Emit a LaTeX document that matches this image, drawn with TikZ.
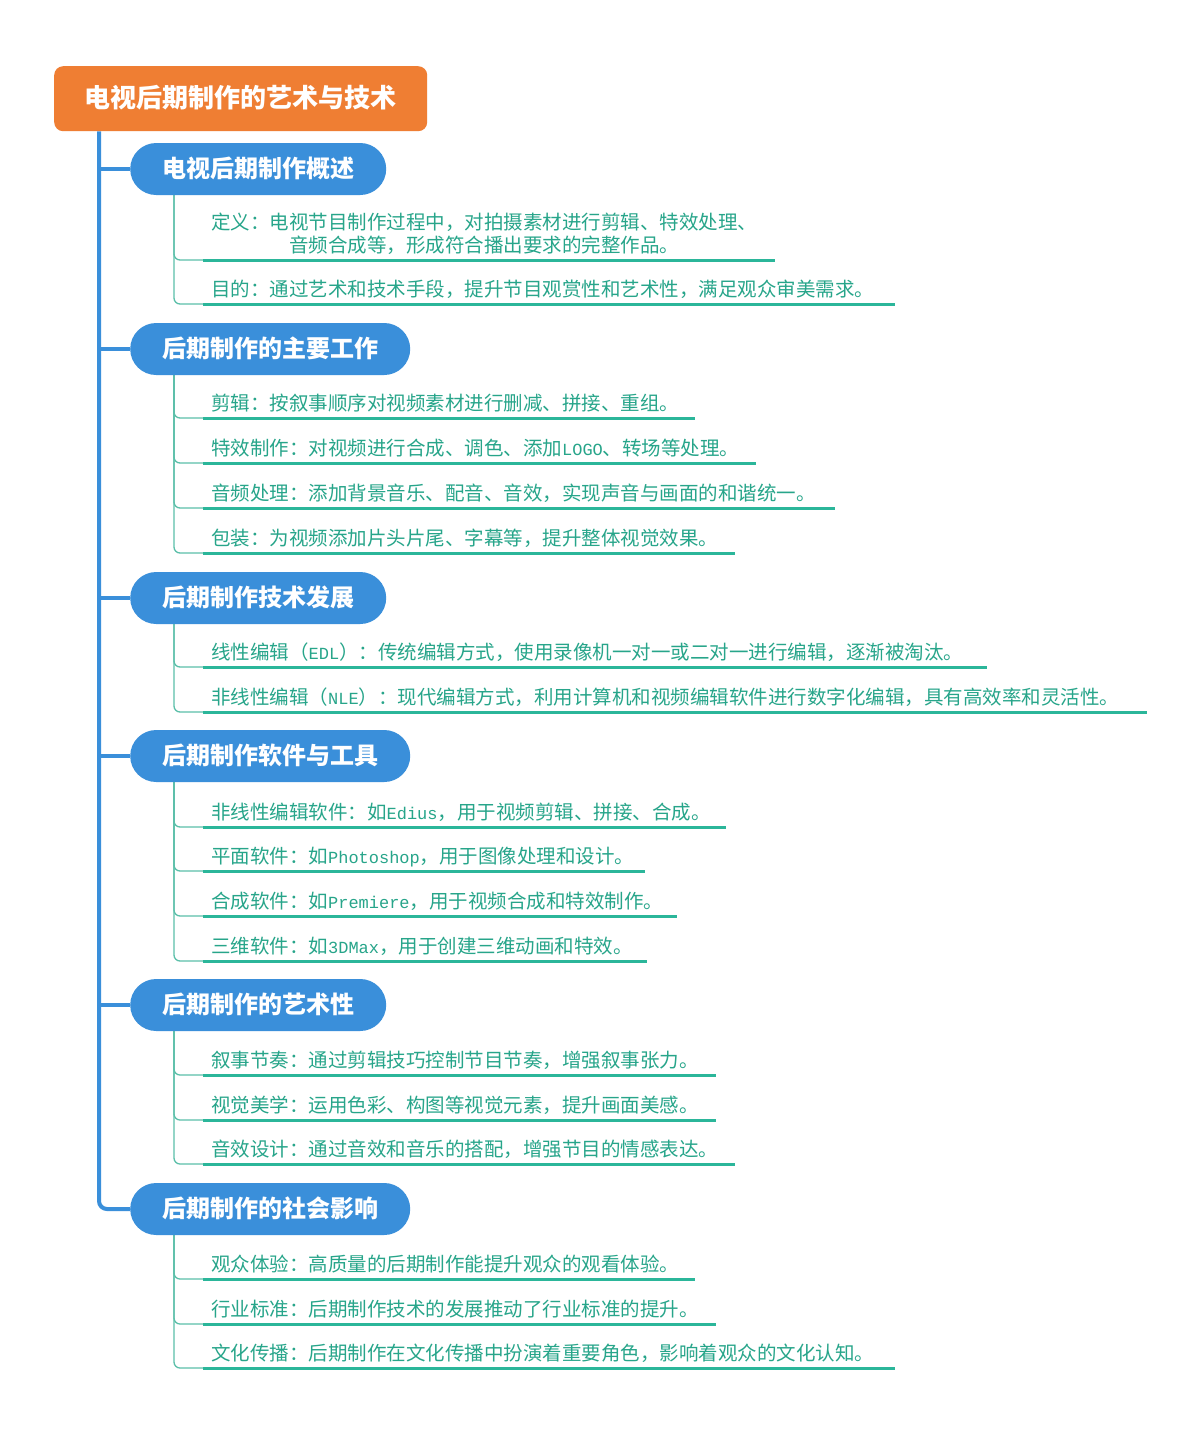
\documentclass[tikz,border=0pt]{standalone}
\usepackage{fontspec}
\setmainfont{Noto Sans CJK SC}
\newfontfamily\lat{Liberation Mono}[Scale=0.87]
\usetikzlibrary{backgrounds,calc}
\definecolor{rootc}{HTML}{EF7E33}
\definecolor{bluec}{HTML}{3A8FDA}
\definecolor{leafc}{HTML}{27A58A}
\definecolor{ulc}{HTML}{2BB69A}
\definecolor{twigc}{HTML}{5BBFA9}
\tikzset{
  rootbox/.style={fill=rootc, text=white, rounded corners=9pt, minimum width=373pt, minimum height=65pt,
    inner sep=0pt, font=\fontsize{26}{26}\selectfont\bfseries, text height=21pt, text depth=3pt, anchor=north west},
  branch/.style={fill=bluec, text=white, rounded corners=26pt, minimum height=52pt, inner xsep=32pt,
    inner ysep=0pt, font=\fontsize{24}{24}\selectfont\bfseries, anchor=west, text height=20pt, text depth=3pt},
  leaf/.style={anchor=south west, inner xsep=0pt, inner ysep=3pt, text height=15pt, text depth=4pt,
    font=\fontsize{19.5}{21}\selectfont, text=leafc},
  uline/.style={draw=ulc, line width=3pt},
  twig/.style={draw=twigc, line width=1.3pt, rounded corners=6pt},
  trunk/.style={draw=bluec, line width=4pt},
}
\newcommand\leafnode[4]{%
  \node[leaf] (#1) at (211,#2) {\makebox[\dimexpr #3pt-211pt\relax][l]{#4}};
  \draw[uline] ([xshift=-8pt]#1.south west) -- (#1.south east);}
\newcommand\leafconn[2]{\draw[twig] ([xshift=44pt]#1.west) |- (#2.south west);}
\begin{document}
\begin{tikzpicture}[x=1pt,y=-1pt]
\useasboundingbox (0,0) rectangle (1200,1436);
% root
\node[rootbox] (root) at (54,66) {电视后期制作的艺术与技术};
% branches
\node[branch] (b1) at (130,169) {电视后期制作概述};
\node[branch] (b2) at (130,349) {后期制作的主要工作};
\node[branch] (b3) at (130,598) {后期制作技术发展};
\node[branch] (b4) at (130,756) {后期制作软件与工具};
\node[branch] (b5) at (130,1005) {后期制作的艺术性};
\node[branch] (b6) at (130,1209) {后期制作的社会影响};
% leaves
\node[leaf, text depth=4pt] (a1) at (211,260) {\makebox[564pt][l]{\begin{tabular}[b]{@{}c@{}}定义：电视节目制作过程中，对拍摄素材进行剪辑、特效处理、\\音频合成等，形成符合播出要求的完整作品。\end{tabular}}};
\draw[uline] ([xshift=-8pt]a1.south west) -- (a1.south east);
\leafnode{a2}{304}{895}{目的：通过艺术和技术手段，提升节目观赏性和艺术性，满足观众审美需求。}
\leafnode{c1}{418}{695}{剪辑：按叙事顺序对视频素材进行删减、拼接、重组。}
\leafnode{c2}{463}{756}{特效制作：对视频进行合成、调色、添加{\lat LOGO}、转场等处理。}
\leafnode{c3}{508}{835}{音频处理：添加背景音乐、配音、音效，实现声音与画面的和谐统一。}
\leafnode{c4}{553}{735}{包装：为视频添加片头片尾、字幕等，提升整体视觉效果。}
\leafnode{d1}{667}{987}{线性编辑（{\lat EDL}）：传统编辑方式，使用录像机一对一或二对一进行编辑，逐渐被淘汰。}
\leafnode{d2}{712}{1147}{非线性编辑（{\lat NLE}）：现代编辑方式，利用计算机和视频编辑软件进行数字化编辑，具有高效率和灵活性。}
\leafnode{e1}{827}{726}{非线性编辑软件：如{\lat Edius}，用于视频剪辑、拼接、合成。}
\leafnode{e2}{871}{645}{平面软件：如{\lat Photoshop}，用于图像处理和设计。}
\leafnode{e3}{916}{677}{合成软件：如{\lat Premiere}，用于视频合成和特效制作。}
\leafnode{e4}{961}{647}{三维软件：如{\lat 3DMax}，用于创建三维动画和特效。}
\leafnode{f1}{1075}{716}{叙事节奏：通过剪辑技巧控制节目节奏，增强叙事张力。}
\leafnode{f2}{1120}{716}{视觉美学：运用色彩、构图等视觉元素，提升画面美感。}
\leafnode{f3}{1164}{735}{音效设计：通过音效和音乐的搭配，增强节目的情感表达。}
\leafnode{g1}{1279}{695}{观众体验：高质量的后期制作能提升观众的观看体验。}
\leafnode{g2}{1324}{716}{行业标准：后期制作技术的发展推动了行业标准的提升。}
\leafnode{g3}{1368}{895}{文化传播：后期制作在文化传播中扮演着重要角色，影响着观众的文化认知。}
% connectors
\begin{pgfonlayer}{background}
\fill[white] (0,0) rectangle (1200,1436);
\coordinate (tt) at ([xshift=45pt]root.south west);
\draw[trunk, rounded corners=8pt] (tt) |- (b6.west);
\foreach \b in {b1,b2,b3,b4,b5}{\draw[trunk] (\b.west -| tt) -- (\b.west);}
\leafconn{b1}{a1}\leafconn{b1}{a2}
\leafconn{b2}{c1}\leafconn{b2}{c2}\leafconn{b2}{c3}\leafconn{b2}{c4}
\leafconn{b3}{d1}\leafconn{b3}{d2}
\leafconn{b4}{e1}\leafconn{b4}{e2}\leafconn{b4}{e3}\leafconn{b4}{e4}
\leafconn{b5}{f1}\leafconn{b5}{f2}\leafconn{b5}{f3}
\leafconn{b6}{g1}\leafconn{b6}{g2}\leafconn{b6}{g3}
\end{pgfonlayer}
\end{tikzpicture}
\end{document}
